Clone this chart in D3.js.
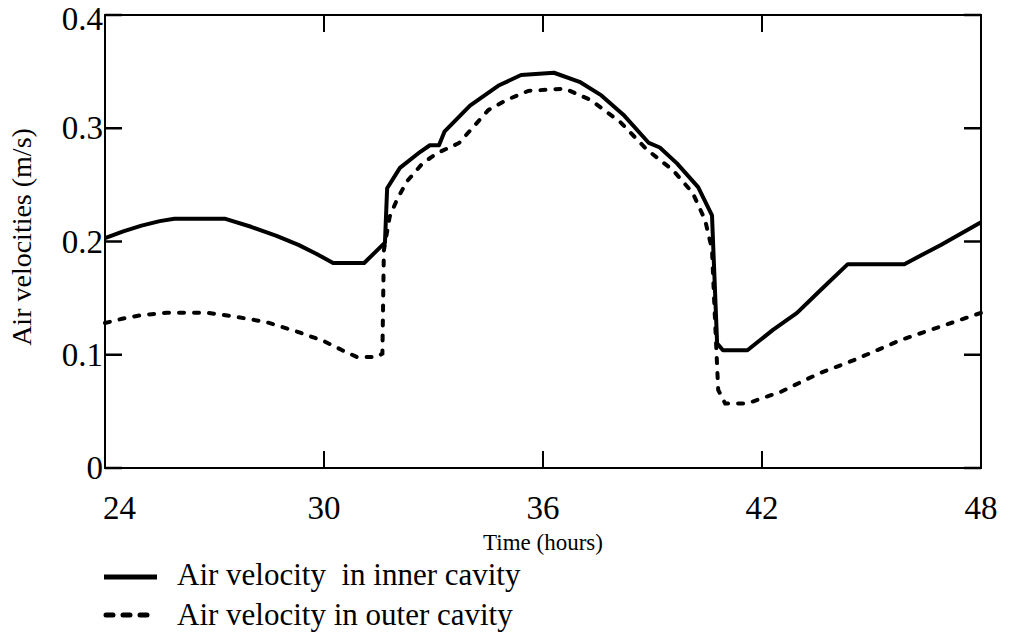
<!DOCTYPE html>
<html>
<head>
<meta charset="utf-8">
<script src="https://cdn.jsdelivr.net/npm/d3@7"></script>
<style>
  html, body { margin: 0; padding: 0; background: #fff; }
  svg { display: block; }
  text { font-family: "Liberation Serif", "DejaVu Serif", serif; fill: #000; }
</style>
</head>
<body>
<svg id="chart" width="1011" height="640"></svg>
<script>
// ---- data ----
const innerHours = [24, 24.5, 25, 25.5, 25.9, 27.3, 28, 28.7, 29.3, 29.8, 30.25, 31.1, 31.67, 31.73, 32.08, 32.63, 32.9, 33.15, 33.3, 34, 34.8, 35.4, 36.3, 37, 37.6, 38.2, 38.9, 39.2, 39.67, 40.25, 40.63, 40.77, 40.93, 41.6, 42.3, 42.96, 43.6, 44.35, 45.9, 46.9, 48];
const innerVel = [0.203, 0.209, 0.214, 0.218, 0.22, 0.22, 0.213, 0.205, 0.197, 0.189, 0.181, 0.181, 0.199, 0.247, 0.265, 0.279, 0.285, 0.285, 0.297, 0.32, 0.338, 0.347, 0.349, 0.341, 0.329, 0.312, 0.287, 0.283, 0.269, 0.248, 0.223, 0.110, 0.104, 0.104, 0.122, 0.137, 0.157, 0.18, 0.18, 0.197, 0.217];
const outerHours = [24, 24.5, 25, 25.7, 26.8, 27.5, 28.4, 29.3, 30.0, 30.5, 30.9, 31.45, 31.6, 31.64, 31.8, 32.0, 32.27, 32.7, 33.1, 33.7, 34.5, 35.0, 35.6, 36.6, 37.3, 38.1, 38.85, 39.56, 40.1, 40.44, 40.63, 40.7, 40.8, 40.99, 41.6, 42.03, 42.5, 43.2, 43.6, 44.5, 45.8, 46.9, 48];
const outerVel = [0.128, 0.132, 0.135, 0.137, 0.137, 0.134, 0.129, 0.12, 0.112, 0.104, 0.098, 0.098, 0.101, 0.192, 0.222, 0.237, 0.253, 0.269, 0.278, 0.287, 0.316, 0.325, 0.333, 0.335, 0.325, 0.306, 0.281, 0.263, 0.243, 0.219, 0.193, 0.14, 0.069, 0.057, 0.057, 0.062, 0.067, 0.078, 0.084, 0.095, 0.113, 0.125, 0.137];
const xTicks = [24, 30, 36, 42, 48];
const yTicks = [0, 0.1, 0.2, 0.3, 0.4];
const yTickLabels = ["0", "0.1", "0.2", "0.3", "0.4"];
const legendLabels = ["Air velocity  in inner cavity", "Air velocity in outer cavity"];
const xTitle = "Time (hours)";
const yTitle = "Air velocities (m/s)";

// ---- layout ----
const FONT = '"Liberation Serif", "DejaVu Serif", serif';
const L = 105, R = 981, T = 15, B = 468;
const svg = d3.select("#chart");
const x = d3.scaleLinear().domain([24, 48]).range([L, R]);
const y = d3.scaleLinear().domain([0, 0.4]).range([B, T]);

// frame
svg.append("rect").attr("x", L).attr("y", T).attr("width", R - L).attr("height", B - T)
  .attr("fill", "none").attr("stroke", "#000").attr("stroke-width", 2);

const tickLen = 17;
svg.selectAll(".ytl").data(yTicks).enter().append("line")
  .attr("x1", L).attr("x2", L + tickLen).attr("y1", d => y(d)).attr("y2", d => y(d))
  .attr("stroke", "#000").attr("stroke-width", 2.5);
svg.selectAll(".ytr").data(yTicks).enter().append("line")
  .attr("x1", R).attr("x2", R - tickLen).attr("y1", d => y(d)).attr("y2", d => y(d))
  .attr("stroke", "#000").attr("stroke-width", 2.5);
svg.selectAll(".xtb").data(xTicks).enter().append("line")
  .attr("x1", d => x(d)).attr("x2", d => x(d)).attr("y1", B).attr("y2", B - tickLen)
  .attr("stroke", "#000").attr("stroke-width", 2);
svg.selectAll(".xtt").data(xTicks).enter().append("line")
  .attr("x1", d => x(d)).attr("x2", d => x(d)).attr("y1", T).attr("y2", T + tickLen)
  .attr("stroke", "#000").attr("stroke-width", 2);

svg.selectAll(".ylab").data(yTicks).enter().append("text")
  .attr("font-family", FONT)
  .attr("x", L - 2).attr("y", (d, i) => y(d) + (i === yTicks.length - 1 ? 15 : 11))
  .attr("text-anchor", "end").attr("font-size", 33)
  .text((d, i) => yTickLabels[i]);
svg.selectAll(".xlab").data(xTicks).enter().append("text")
  .attr("font-family", FONT)
  .attr("x", (d, i) => i === 0 ? x(d) - 2 : x(d))
  .attr("y", B + 51)
  .attr("text-anchor", (d, i) => i === 0 ? "start" : "middle")
  .attr("font-size", 33)
  .text(d => d);

svg.append("text").attr("font-family", FONT).attr("x", 543).attr("y", B + 82)
  .attr("text-anchor", "middle").attr("font-size", 23).text(xTitle);
svg.append("text").attr("font-family", FONT).attr("transform", `translate(31,237) rotate(-90)`)
  .attr("text-anchor", "middle").attr("font-size", 28).text(yTitle);

const line = d3.line().x(d => x(d[0])).y(d => y(d[1]));
const innerData = innerHours.map((h, i) => [h, innerVel[i]]);
const outerData = outerHours.map((h, i) => [h, outerVel[i]]);
svg.append("path").attr("d", line(innerData)).attr("fill", "none")
  .attr("stroke", "#000").attr("stroke-width", 4).attr("stroke-linejoin", "round");
svg.append("path").attr("d", line(outerData)).attr("fill", "none")
  .attr("stroke", "#000").attr("stroke-width", 4).attr("stroke-linecap", "round")
  .attr("stroke-dasharray", "5,10");

const legY = [577, 615];
svg.append("line").attr("x1", 104).attr("x2", 157).attr("y1", legY[0]).attr("y2", legY[0])
  .attr("stroke", "#000").attr("stroke-width", 5);
svg.append("line").attr("x1", 106).attr("x2", 155).attr("y1", legY[1]).attr("y2", legY[1])
  .attr("stroke", "#000").attr("stroke-width", 5).attr("stroke-linecap", "round")
  .attr("stroke-dasharray", "7,10");
svg.selectAll(".legtxt").data(legendLabels).enter().append("text")
  .attr("font-family", FONT)
  .attr("x", 177).attr("y", (d, i) => legY[i] + 8 + i * 2)
  .attr("font-size", 31).attr("xml:space", "preserve").style("white-space", "pre")
  .text(d => d);
</script>
</body>
</html>
